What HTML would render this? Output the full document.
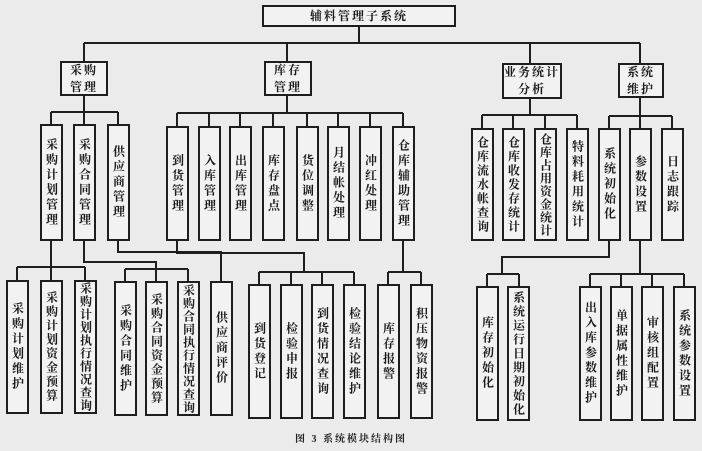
<!DOCTYPE html>
<html><head><meta charset="utf-8"><style>
body{margin:0;width:702px;height:451px;background:#ebebeb;position:relative;overflow:hidden;font-family:"Liberation Serif","Noto Serif CJK SC",serif;}
.b{position:absolute;border:2px solid #1e1e1e;background:#f2f2f2;box-sizing:border-box;color:#1a1a1a;font-weight:bold;}
.v{writing-mode:vertical-rl;text-orientation:upright;display:flex;align-items:center;justify-content:center;font-size:12px;letter-spacing:3px;line-height:1;white-space:nowrap;}
.v.t{letter-spacing:1px;font-size:12px;}
.v.m{letter-spacing:2px;}
.h{display:flex;align-items:center;justify-content:center;text-align:center;font-size:12px;line-height:17px;letter-spacing:2px;}
svg{position:absolute;left:0;top:0;}
.cap{position:absolute;left:0;width:702px;top:430px;text-align:center;font-size:10px;font-weight:bold;letter-spacing:2px;color:#222;}
</style></head><body>
<svg width="702" height="451" stroke="#1e1e1e" stroke-width="2" fill="none">
<path d="M359 26V43M84 43H640M84 43V61M287 43V61M530 43V63M640 43V63"/>
<path d="M84 95V112M51 112H118M51 112V124M84 112V124M118 112V124"/>
<path d="M287 95V113M177 113H403M177 113V126M209 113V126M240 113V126M273 113V126M307 113V126M338 113V126M370 113V126M403 113V126"/>
<path d="M530 98V115M482 115H577M482 115V128M513 115V128M545 115V128M577 115V128"/>
<path d="M640 97V116M609 116H672M609 116V128M640 116V128M672 116V128"/>
<path d="M51 240V267M17 267H85M17 267V280M51 267V280M85 267V280"/>
<path d="M84 240V262H156V269M125 269H188M125 269V281M156 269V281M188 269V281"/>
<path d="M118 240V252H221V281"/>
<path d="M177 240V253H304V272M259 272H354M259 272V284M291 272V284M322 272V284M354 272V284"/>
<path d="M403 240V272M388 272H421M388 272V284M421 272V284"/>
<path d="M609 240V257H502V274M487 274H519M487 274V286M519 274V286"/>
<path d="M640 240V274M590 274H684M590 274V286M621 274V286M652 274V286M684 274V286"/>
</svg>
<div class="b h" style="left:262px;top:5px;width:194px;height:22px;">辅料管理子系统</div>
<div class="b h" style="left:60px;top:61px;width:48px;height:35px;">采购<br>管理</div>
<div class="b h" style="left:264px;top:61px;width:48px;height:35px;">库存<br>管理</div>
<div class="b h" style="left:502px;top:63px;width:60px;height:36px;">业务统计<br>分析</div>
<div class="b h" style="left:618px;top:63px;width:46px;height:35px;">系统<br>维护</div>

<div class="b v" style="left:40px;top:124px;width:23px;height:117px;">采购计划管理</div>
<div class="b v" style="left:73px;top:124px;width:23px;height:117px;">采购合同管理</div>
<div class="b v" style="left:107px;top:124px;width:23px;height:117px;">供应商管理</div>

<div class="b v" style="left:166px;top:126px;width:23px;height:115px;">到货管理</div>
<div class="b v" style="left:198px;top:126px;width:23px;height:115px;">入库管理</div>
<div class="b v" style="left:229px;top:126px;width:23px;height:115px;">出库管理</div>
<div class="b v" style="left:262px;top:126px;width:23px;height:115px;">库存盘点</div>
<div class="b v" style="left:296px;top:126px;width:23px;height:115px;">货位调整</div>
<div class="b v" style="left:327px;top:126px;width:23px;height:115px;">月结帐处理</div>
<div class="b v" style="left:359px;top:126px;width:23px;height:115px;">冲红处理</div>
<div class="b v" style="left:392px;top:126px;width:23px;height:115px;">仓库辅助管理</div>

<div class="b v m" style="left:471px;top:128px;width:23px;height:113px;">仓库流水帐查询</div>
<div class="b v m" style="left:502px;top:128px;width:23px;height:113px;">仓库收发存统计</div>
<div class="b v t" style="left:534px;top:128px;width:23px;height:113px;">仓库占用资金统计</div>
<div class="b v" style="left:566px;top:128px;width:23px;height:113px;">特料耗用统计</div>
<div class="b v" style="left:598px;top:128px;width:23px;height:113px;">系统初始化</div>
<div class="b v" style="left:629px;top:128px;width:23px;height:113px;">参数设置</div>
<div class="b v" style="left:661px;top:128px;width:23px;height:113px;">日志跟踪</div>

<div class="b v" style="left:6px;top:280px;width:23px;height:134px;">采购计划维护</div>
<div class="b v m" style="left:40px;top:280px;width:23px;height:134px;">采购计划资金预算</div>
<div class="b v t" style="left:74px;top:280px;width:23px;height:134px;">采购计划执行情况查询</div>
<div class="b v" style="left:114px;top:281px;width:23px;height:135px;">采购合同维护</div>
<div class="b v m" style="left:145px;top:281px;width:23px;height:135px;">采购合同资金预算</div>
<div class="b v t" style="left:177px;top:281px;width:23px;height:135px;">采购合同执行情况查询</div>
<div class="b v" style="left:210px;top:281px;width:23px;height:135px;">供应商评价</div>
<div class="b v" style="left:248px;top:284px;width:23px;height:135px;">到货登记</div>
<div class="b v" style="left:280px;top:284px;width:23px;height:135px;">检验申报</div>
<div class="b v" style="left:311px;top:284px;width:23px;height:135px;">到货情况查询</div>
<div class="b v" style="left:343px;top:284px;width:23px;height:135px;">检验结论维护</div>
<div class="b v" style="left:377px;top:284px;width:23px;height:135px;">库存报警</div>
<div class="b v" style="left:410px;top:284px;width:23px;height:135px;">积压物资报警</div>
<div class="b v" style="left:476px;top:286px;width:23px;height:135px;">库存初始化</div>
<div class="b v m" style="left:507px;top:286px;width:23px;height:135px;">系统运行日期初始化</div>
<div class="b v" style="left:579px;top:286px;width:23px;height:135px;">出入库参数维护</div>
<div class="b v" style="left:610px;top:286px;width:23px;height:135px;">单据属性维护</div>
<div class="b v" style="left:641px;top:286px;width:23px;height:135px;">审核组配置</div>
<div class="b v" style="left:673px;top:286px;width:23px;height:135px;">系统参数设置</div>
<div class="cap">图 3 系统模块结构图</div>
</body></html>
